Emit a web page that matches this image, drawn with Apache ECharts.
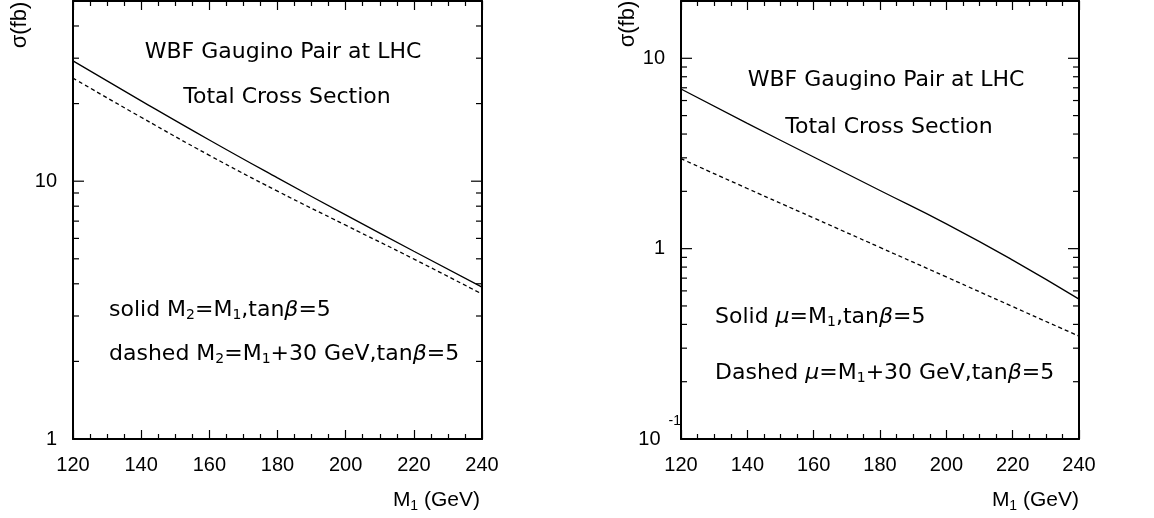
<!DOCTYPE html>
<html><head><meta charset="utf-8">
<script src="https://cdn.jsdelivr.net/npm/echarts@6/dist/echarts.min.js"></script>
<style>html,body{margin:0;padding:0;background:#fff}#c{width:1154px;height:518px}</style>
</head><body><div id="c"></div>
<script>
// ---- data ----
const massValues = [120, 140, 160, 180, 200, 220, 240];
const leftSolid  = [29.3, 20.5, 14.45, 10.3, 7.40, 5.35, 3.88];
const leftDashed = [25.1, 17.7, 12.6, 9.15, 6.75, 4.99, 3.65];
const rightSolid  = [6.90, 4.55, 3.03, 2.02, 1.35, 0.871, 0.543];
const rightDashed = [2.97, 2.07, 1.45, 1.015, 0.710, 0.496, 0.347];
const xRange = [120, 240];
const xInterval = 20;
const leftYRange = [1, 50];
const rightYRange = [0.1, 20];
const leftMajorY = [1, 10];
const leftMinorY = [2, 3, 4, 5, 6, 7, 8, 9, 20, 30, 40];
const rightMajorY = [0.1, 1, 10];
const rightMinorY = [0.2, 0.3, 0.4, 0.5, 0.6, 0.7, 0.8, 0.9, 2, 3, 4, 5, 6, 7, 8, 9];

// ---- styling ----
const FONT_AX = 'Liberation Sans, Arial, sans-serif';
const FONT_TX = 'DejaVu Sans, sans-serif';
const TXT = 22;
const pair = (xs, ys) => xs.map((x, i) => [x, ys[i]]);

function isPow10(v) {
  const l = Math.log10(v);
  return Math.abs(l - Math.round(l)) < 1e-6;
}
function yLabel(v) {
  if (!isPow10(v)) return '';
  const e = Math.round(Math.log10(v));
  if (e < 0) return '{a|10}{s|' + e + '}';
  return String(Math.round(v));
}

function xAxisDef(grid, top) {
  return {
    type: 'value', gridIndex: grid, min: xRange[0], max: xRange[1], interval: xInterval,
    position: top ? 'top' : 'bottom',
    axisLine: { show: true, onZero: false, lineStyle: { color: '#000', width: 2 } },
    axisTick: { show: true, inside: true, length: 9, lineStyle: { color: '#000', width: 1.2 } },
    minorTick: { show: true, splitNumber: 4, length: 5, lineStyle: { color: '#000', width: 1.2 } },
    axisLabel: { show: !top, margin: 16, color: '#000', fontSize: 20, fontFamily: FONT_AX },
    splitLine: { show: false }
  };
}
function yAxisDef(grid, range, right) {
  return {
    type: 'log', logBase: 10, gridIndex: grid, min: range[0], max: range[1],
    position: right ? 'right' : 'left',
    axisLine: { show: true, onZero: false, lineStyle: { color: '#000', width: 2 } },
    axisTick: { show: false },
    minorTick: { show: false },
    splitLine: { show: false },
    axisLabel: {
      show: !right, margin: 16, color: '#000', fontSize: 20, fontFamily: FONT_AX,
      showMaxLabel: false,
      formatter: yLabel,
      rich: {
        a: { fontSize: 20, fontFamily: FONT_AX, color: '#000' },
        s: { fontSize: 14, fontFamily: FONT_AX, color: '#000', padding: [0, -16, 36, 8], verticalAlign: 'top' }
      }
    }
  };
}

function tickSeries(xi, yi, values, len) {
  return {
    type: 'custom', xAxisIndex: xi, yAxisIndex: yi, silent: true, z: 5,
    data: values.map(v => [xRange[0], v]),
    renderItem: function (params, api) {
      const v = api.value(1);
      const p = api.coord([xRange[0], v]);
      const q = api.coord([xRange[1], v]);
      const st = { stroke: '#000', lineWidth: 1.2 };
      return {
        type: 'group', children: [
          { type: 'line', shape: { x1: p[0], y1: p[1], x2: p[0] + len, y2: p[1] }, style: st },
          { type: 'line', shape: { x1: q[0], y1: q[1], x2: q[0] - len, y2: q[1] }, style: st }
        ]
      };
    }
  };
}
function curve(xi, yi, ys, dashed) {
  return {
    type: 'line', xAxisIndex: xi, yAxisIndex: yi, data: pair(massValues, ys),
    showSymbol: false, smooth: true, silent: true,
    lineStyle: { color: '#000', width: 1.3, type: dashed ? [4, 3] : 'solid' }
  };
}

const txtRich = {
  sub: { fontSize: 14, fontFamily: FONT_TX, fill: '#000', padding: [11, 0, 0, 0] },
  gi: { fontSize: TXT, fontFamily: FONT_TX, fontStyle: 'italic', fill: '#000' }
};
function annot(x, y, text, align) {
  return {
    type: 'text', x: x, y: y, silent: true,
    style: { text: text, fontSize: TXT, fontFamily: FONT_TX, fill: '#000', align: align, verticalAlign: 'middle', rich: txtRich }
  };
}
const axRich = {
  sub: { fontSize: 14, fontFamily: FONT_AX, fill: '#000', padding: [12, 0, 0, 0] }
};
function axName(x, y, text, align, size, rot) {
  return {
    type: 'text', x: x, y: y, rotation: rot || 0, silent: true,
    style: { text: text, fontSize: size, fontFamily: FONT_AX, fill: '#000', align: align, verticalAlign: 'middle', rich: axRich }
  };
}

const chart = echarts.init(document.getElementById('c'), null, { renderer: 'canvas' });
chart.setOption({
  animation: false,
  backgroundColor: '#fff',
  grid: [
    { left: 73, top: 1, width: 409, height: 438 },
    { left: 681, top: 1, width: 398, height: 438 }
  ],
  xAxis: [xAxisDef(0, false), xAxisDef(0, true), xAxisDef(1, false), xAxisDef(1, true)],
  yAxis: [yAxisDef(0, leftYRange, false), yAxisDef(0, leftYRange, true),
          yAxisDef(1, rightYRange, false), yAxisDef(1, rightYRange, true)],
  series: [
    curve(0, 0, leftSolid, false),
    curve(0, 0, leftDashed, true),
    curve(2, 2, rightSolid, false),
    curve(2, 2, rightDashed, true),
    tickSeries(0, 0, leftMajorY, 11),
    tickSeries(0, 0, leftMinorY, 6),
    tickSeries(2, 2, rightMajorY, 11),
    tickSeries(2, 2, rightMinorY, 6)
  ],
  graphic: [
    annot(283, 52, 'WBF Gaugino Pair at LHC', 'center'),
    annot(287, 97, 'Total Cross Section', 'center'),
    annot(109, 310, 'solid M{sub|2}=M{sub|1},tan{gi|β}=5', 'left'),
    annot(109, 354, 'dashed M{sub|2}=M{sub|1}+30 GeV,tan{gi|β}=5', 'left'),
    annot(886, 80, 'WBF Gaugino Pair at LHC', 'center'),
    annot(889, 127, 'Total Cross Section', 'center'),
    annot(715, 317, 'Solid {gi|μ}=M{sub|1},tan{gi|β}=5', 'left'),
    annot(715, 373, 'Dashed {gi|μ}=M{sub|1}+30 GeV,tan{gi|β}=5', 'left'),
    axName(480, 500, 'M{sub|1} (GeV)', 'right', 21),
    axName(1079, 500, 'M{sub|1} (GeV)', 'right', 21),
    axName(20, 25, 'σ(fb)', 'center', 22, Math.PI / 2),
    axName(628, 24, 'σ(fb)', 'center', 22, Math.PI / 2)
  ]
});
</script></body></html>
